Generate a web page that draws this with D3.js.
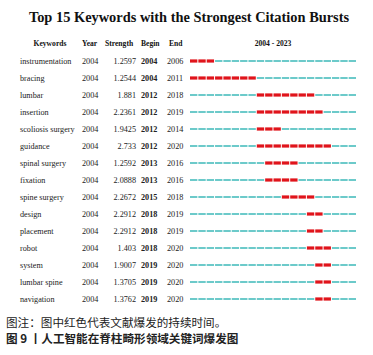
<!DOCTYPE html>
<html><head><meta charset="utf-8">
<script src="https://cdn.jsdelivr.net/npm/d3@7"></script>
<style>body{margin:0;background:#fff;}svg{display:block;}</style>
</head><body>
<script>
const keywords = ["instrumentation","bracing","lumbar","insertion","scoliosis surgery","guidance","spinal surgery","fixation","spine surgery","design","placement","robot","system","lumbar spine","navigation"];
const years = [2004,2004,2004,2004,2004,2004,2004,2004,2004,2004,2004,2004,2004,2004,2004];
const strengths = ["1.2597","1.2544","1.881","2.2361","1.9425","2.733","1.2592","2.0888","2.2672","2.2912","2.2912","1.403","1.9007","1.3705","1.3762"];
const begins = [2004,2004,2012,2012,2012,2012,2013,2013,2015,2018,2018,2018,2019,2019,2019];
const ends = [2006,2011,2018,2019,2014,2020,2016,2016,2018,2019,2019,2020,2020,2020,2020];
const startYear = 2004, endYear = 2023;
const timeline = d3.range(startYear, endYear + 1);

const W = 373, H = 355;
const svg = d3.select("body").append("svg").attr("width", W).attr("height", H);
const serif = "'Liberation Serif','Times New Roman',serif";

svg.append("text").attr("x", 189).attr("y", 22).attr("text-anchor", "middle")
  .attr("font-family", serif).attr("font-weight", "bold").attr("font-size", 14.4)
  .attr("fill", "#111").text("Top 15 Keywords with the Strongest Citation Bursts");

const y = d3.scalePoint().domain(d3.range(keywords.length)).range([61, 299]);
const x = d3.scaleBand().domain(timeline).range([190, 356]).paddingInner(0.12);

const hdr = svg.append("g").attr("font-family", serif).attr("font-weight", "bold").attr("font-size", 7.6).attr("fill", "#111");
hdr.append("text").attr("x", 50).attr("y", 46).attr("text-anchor", "middle").text("Keywords");
hdr.append("text").attr("x", 82).attr("y", 46).text("Year");
hdr.append("text").attr("x", 105).attr("y", 46).text("Strength");
hdr.append("text").attr("x", 141).attr("y", 46).text("Begin");
hdr.append("text").attr("x", 169).attr("y", 46).text("End");
hdr.append("text").attr("x", 273).attr("y", 46).attr("text-anchor", "middle").text(startYear + " - " + endYear);

const rows = svg.append("g").attr("font-family", serif).attr("font-size", 8.2).attr("fill", "#222");
keywords.forEach((k, i) => {
  const yy = y(i) + 2.8;
  rows.append("text").attr("x", 20).attr("y", yy).text(k);
  rows.append("text").attr("x", 82).attr("y", yy).text(years[i]);
  rows.append("text").attr("x", 136).attr("y", yy).attr("text-anchor", "end").text(strengths[i]);
  rows.append("text").attr("x", 141).attr("y", yy).attr("font-weight", "bold").text(begins[i]);
  rows.append("text").attr("x", 167).attr("y", yy).text(ends[i]);
  const g = svg.append("g");
  timeline.forEach(t => {
    const red = t >= begins[i] && t <= ends[i];
    g.append("rect").attr("x", x(t)).attr("width", x.bandwidth())
      .attr("y", y(i) - (red ? 1.6 : 1)).attr("height", red ? 3.2 : 2)
      .attr("fill", red ? "#e0141b" : "#6ccaca");
  });
});

const cap = svg.append("g").attr("font-family", "'Noto Sans CJK SC',sans-serif").attr("fill", "#222");
cap.append("text").attr("x", 6).attr("y", 327).attr("font-size", 11.6).text("图注：图中红色代表文献爆发的持续时间。");
cap.append("text").attr("x", 6).attr("y", 343).attr("font-size", 11.6).attr("font-weight", "bold").text("图 9 丨人工智能在脊柱畸形领域关键词爆发图");
</script>
</body></html>
